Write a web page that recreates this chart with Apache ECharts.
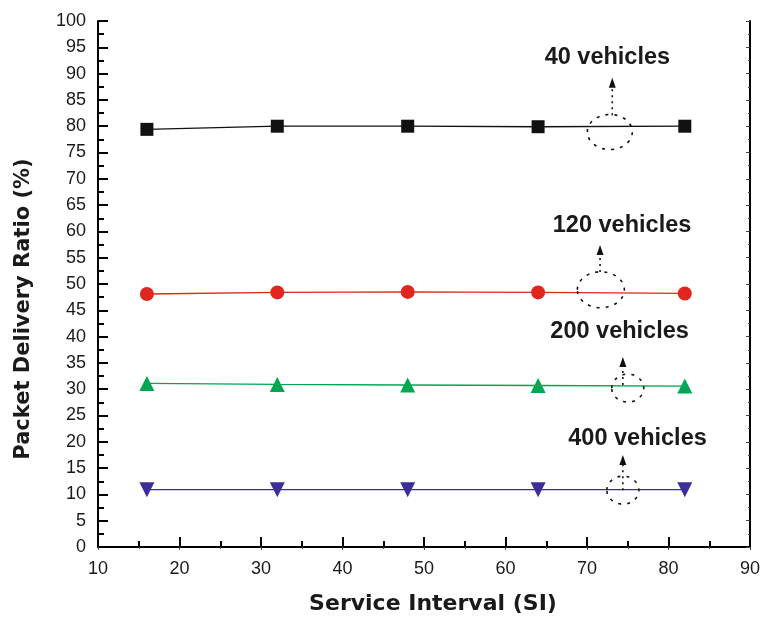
<!DOCTYPE html>
<html>
<head>
<meta charset="utf-8">
<script src="https://cdn.jsdelivr.net/npm/echarts@6/dist/echarts.min.js"></script>
<style>html,body{margin:0;padding:0;background:#fff}#c{width:760px;height:617px}</style>
</head>
<body>
<div id="c"></div>
<script>
// ---- data ----
const serviceInterval = [16, 32, 48, 64, 82];
const seriesNames = ['40 vehicles', '120 vehicles', '200 vehicles', '400 vehicles'];
const pdr40 = [79.4, 80.0, 80.0, 79.9, 80.0];
const pdr120 = [48.1, 48.4, 48.5, 48.4, 48.2];
const pdr200 = [31.1, 30.9, 30.8, 30.7, 30.6];
const pdr400 = [10.9, 10.9, 10.9, 10.9, 10.9];
// annotation anchors (data coordinates)
const annotLabelX = [72.5, 74.3, 74.0, 76.2];
const annotLabelY = [93.0, 61.2, 40.9, 20.7];
const annotEllipseX = [72.8, 71.7, 75.0, 74.4];
const annotEllipseY = [78.9, 48.9, 30.2, 10.8];
const annotArrowX = [73.1, 71.6, 74.4, 74.4];
const annotArrowFromY = [82.1, 52.3, 30.8, 10.8];
const annotArrowToY = [89.2, 57.4, 36.1, 17.5];
const xTicks = [10, 20, 30, 40, 50, 60, 70, 80, 90];
const yTicks = [0,5,10,15,20,25,30,35,40,45,50,55,60,65,70,75,80,85,90,95,100];

const colors = ['#111111', '#e0261e', '#00a651', '#3b2e9b'];
const symbols = ['rect', 'circle', 'triangle', 'triangle'];
const symbolRot = [0, 0, 0, 180];
const symbolSizes = [13, 14, 15, 15];
const values = [pdr40, pdr120, pdr200, pdr400];
const ellipseR = [[22.5, 17.5], [23.5, 18], [16, 14], [16, 14]];

const chart = echarts.init(document.getElementById('c'), null, {renderer: 'canvas'});
const axisCommon = {
  axisLine: {show: true, lineStyle: {color: '#000', width: 2}},
  splitLine: {show: false}
};
const option = {
  animation: false,
  backgroundColor: '#fff',
  grid: {left: 98, right: 10, top: 21, bottom: 70, containLabel: false, outerBoundsMode: 'none'},
  xAxis: [
    Object.assign({}, axisCommon, {
      type: 'value', min: xTicks[0], max: xTicks[xTicks.length - 1], interval: 10,
      position: 'bottom',
      name: 'Service Interval (SI)', nameLocation: 'middle', nameGap: 46,
      nameTextStyle: {fontFamily: 'DejaVu Sans', fontWeight: 'bold', fontSize: 22, color: '#1a1a1a', padding: [0, 0, 0, 18]},
      axisTick: {inside: true, length: 10, lineStyle: {color: '#000', width: 2}},
      minorTick: {show: true, splitNumber: 2, length: 6, lineStyle: {color: '#000', width: 2}},
      axisLabel: {fontFamily: 'Liberation Sans', fontSize: 18, color: '#1a1a1a', margin: 13}
    }),
    Object.assign({}, axisCommon, {
      type: 'value', min: 10, max: 90, interval: 10, position: 'top',
      axisTick: {inside: true, length: 3, lineStyle: {color: '#444', width: 1}},
      minorTick: {show: true, splitNumber: 2, length: 2, lineStyle: {color: '#444', width: 1}},
      axisLabel: {show: false}
    })
  ],
  yAxis: [
    Object.assign({}, axisCommon, {
      type: 'value', min: yTicks[0], max: yTicks[yTicks.length - 1], interval: 5,
      position: 'left',
      name: 'Packet Delivery Ratio (%)', nameLocation: 'middle', nameGap: 64,
      nameTextStyle: {fontFamily: 'DejaVu Sans', fontWeight: 'bold', fontSize: 21, color: '#1a1a1a', padding: [0, 50, 0, 0]},
      axisTick: {inside: true, length: 10, lineStyle: {color: '#000', width: 2}},
      minorTick: {show: true, splitNumber: 2, length: 6, lineStyle: {color: '#000', width: 2}},
      axisLabel: {fontFamily: 'Liberation Sans', fontSize: 18, color: '#1a1a1a', margin: 12}
    }),
    Object.assign({}, axisCommon, {
      type: 'value', min: 0, max: 100, interval: 5, position: 'right',
      axisTick: {inside: true, length: 4, lineStyle: {color: '#444', width: 1}},
      minorTick: {show: true, splitNumber: 2, length: 2, lineStyle: {color: '#444', width: 1}},
      axisLabel: {show: false}
    })
  ],
  series: values.map((v, i) => ({
    name: seriesNames[i],
    type: 'line',
    xAxisIndex: 0, yAxisIndex: 0,
    data: serviceInterval.map((x, j) => [x, v[j]]),
    symbol: symbols[i],
    symbolRotate: symbolRot[i],
    symbolSize: symbolSizes[i],
    lineStyle: {color: colors[i], width: 1.3},
    itemStyle: {color: colors[i]},
    z: 3
  }))
};
chart.setOption(option);

function px(x, y) { return chart.convertToPixel({xAxisIndex: 0, yAxisIndex: 0}, [x, y]); }
const graphics = [];
for (let i = 0; i < seriesNames.length; i++) {
  const c = px(annotEllipseX[i], annotEllipseY[i]);
  graphics.push({
    type: 'ellipse', shape: {cx: c[0], cy: c[1], rx: ellipseR[i][0], ry: ellipseR[i][1]},
    style: {fill: 'none', stroke: '#111', lineWidth: 1.6, lineDash: [3, 6]}, z: 10
  });
  const a0 = px(annotArrowX[i], annotArrowFromY[i]);
  const a1 = px(annotArrowX[i], annotArrowToY[i]);
  graphics.push({
    type: 'line', shape: {x1: a0[0], y1: a0[1], x2: a1[0], y2: a1[1] + 8},
    style: {stroke: '#111', lineWidth: 1.6, lineDash: [2, 4]}, z: 10
  });
  graphics.push({
    type: 'polygon', shape: {points: [[a1[0], a1[1]], [a1[0] - 3.5, a1[1] + 10], [a1[0] + 3.5, a1[1] + 10]]},
    style: {fill: '#111'}, z: 10
  });
  const l = px(annotLabelX[i], annotLabelY[i]);
  graphics.push({
    type: 'text', x: l[0], y: l[1],
    style: {text: seriesNames[i], fontFamily: 'Liberation Sans', fontWeight: 'bold', fontSize: 23.5,
      fill: '#1a1a1a', align: 'center', verticalAlign: 'middle'}, z: 10
  });
}
chart.setOption({graphic: graphics});
</script>
</body>
</html>
